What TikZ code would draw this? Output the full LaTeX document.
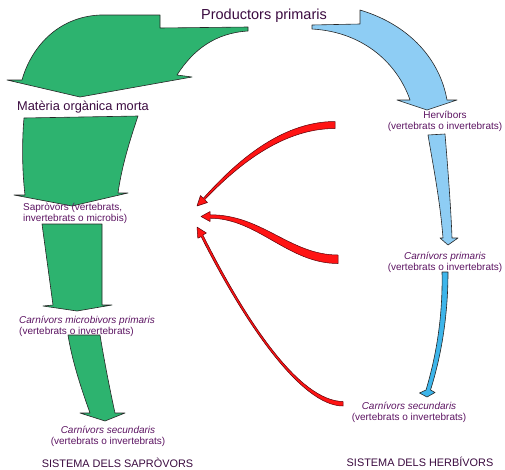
\documentclass[tikz,border=0pt]{standalone}
\usepackage{fontspec}
\setmainfont{Liberation Sans}
\definecolor{leafgreen}{HTML}{2DB36F}
\definecolor{skyblue}{HTML}{8ECDF4}
\definecolor{deepsky}{HTML}{3DB5EA}
\definecolor{flowred}{HTML}{FF1414}
\definecolor{redline}{HTML}{5A0008}
\definecolor{titleink}{HTML}{3B0B40}
\definecolor{labelink}{HTML}{5C1462}
\begin{document}
\begin{tikzpicture}[x=1pt,y=-1pt,
  blockarrow/.style={draw=black!85,line width=0.6pt,line join=round},
  greenflow/.style={blockarrow,fill=leafgreen},
  blueflow/.style={blockarrow,fill=skyblue},
  darkblueflow/.style={blockarrow,fill=deepsky},
  redflow/.style={fill=flowred,draw=redline,line width=0.5pt,line join=round},
  bigtitle/.style={inner sep=0pt,text=titleink,font=\fontsize{14.5}{17}\selectfont},
  subtitle/.style={inner sep=0pt,text=titleink,font=\fontsize{12.8}{15}\selectfont},
  label/.style={inner sep=0pt,text=labelink,font=\fontsize{10}{11}\selectfont},
  systemname/.style={inner sep=0pt,text=titleink,font=\fontsize{10.9}{13}\selectfont}]
\useasboundingbox (0,0) rectangle (505,469);

% --- detritus side (green) ---
\path[greenflow] (22,80) .. controls (31,48) and (57,17) .. (100,15) -- (160,15) -- (160,28)
  -- (248,27) -- (248,31) .. controls (215,33) and (193,50) .. (177,75) -- (192,77)
  -- (80,97) -- (7,80) -- cycle;
\path[greenflow] (24,118) -- (138,116) .. controls (130,140) and (122,165) .. (118,193)
  -- (128,193) -- (72,206) -- (14,195) -- (25,195) .. controls (22,170) and (22,140) .. (24,118) -- cycle;
\path[greenflow] (42,224) -- (102,224) -- (102,305) -- (112,305) -- (77,311) -- (43,306)
  -- (53,305) -- cycle;
\path[greenflow] (68,335) -- (100,335) .. controls (105,365) and (110,390) .. (115,413)
  -- (125,413) -- (105,421) -- (80,413) -- (90,413) .. controls (80,385) and (72,360) .. (68,335) -- cycle;

% --- grazing side (blue) ---
\path[blueflow] (312,25) -- (360,24) -- (360,10) .. controls (410,25) and (440,60) .. (447,100)
  -- (457,100) -- (427,110) -- (397,100) -- (410,100) .. controls (398,65) and (365,32) .. (312,29) -- cycle;
\path[blueflow] (428,135) -- (445,134) .. controls (448,170) and (451,210) .. (452,238)
  -- (458,238) -- (448,245) -- (440,238) -- (443,238) .. controls (440,200) and (433,165) .. (428,135) -- cycle;
\path[darkblueflow] (442,272) -- (448,272) .. controls (448,320) and (440,360) .. (430.5,390)
  -- (435,392.5) -- (427,397) -- (419.5,393) -- (426,390) .. controls (435,360) and (443,320) .. (442,272) -- cycle;

% --- transfers to the detritus chain (red) ---
\path[redflow] (335,121.5) .. controls (280,121.5) and (234,164) .. (203.3,198.3) -- (200.5,195.5)
  -- (197,206) -- (207.5,202.5) -- (204.7,199.7) .. controls (237,166) and (282,128.5) .. (335,128.5) -- cycle;
\path[redflow] (338,255) .. controls (290,255) and (262,214.5) .. (210,214.8) -- (210,211.5)
  -- (201,216.5) -- (210,221.5) -- (210,218.2) .. controls (258,218.5) and (288,263.5) .. (338,263.5) -- cycle;
\path[redflow] (343,401.5) .. controls (299,401) and (246,321) .. (202.9,235) -- (206.4,233)
  -- (197,227) -- (197.8,238.2) -- (201.1,236.6) .. controls (244,322) and (301,406) .. (343,406) -- cycle;

% --- texts ---
\node[bigtitle] (prod) at (264,16) {Productors primaris};
\node[subtitle] (mom) at (83,107) {Matèria orgànica morta};
\node[label,align=left,anchor=west] (sapro) at (23,213.5) {Sapròvors (vertebrats,\\invertebrats o microbis)};
\node[label,align=left,anchor=west] (micro) at (19,326) {\itshape Carnívors microbivors primaris\\(vertebrats o invertebrats)};
\node[label,align=center] (secl) at (108,436.5) {\itshape Carnívors secundaris\\(vertebrats o invertebrats)};
\node[systemname] (syss) at (117.5,462.5) {SISTEMA DELS SAPRÒVORS};
\node[label,align=center] (herb) at (445,121.5) {Hervíbors\\(vertebrats o invertebrats)};
\node[label,align=center] (carp) at (445,262.5) {\itshape Carnívors primaris\\(vertebrats o invertebrats)};
\node[label,align=center] (secr) at (409,412.5) {\itshape Carnívors secundaris\\(vertebrats o invertebrats)};
\node[systemname] (sysh) at (420,462) {SISTEMA DELS HERBÍVORS};
\end{tikzpicture}
\end{document}
